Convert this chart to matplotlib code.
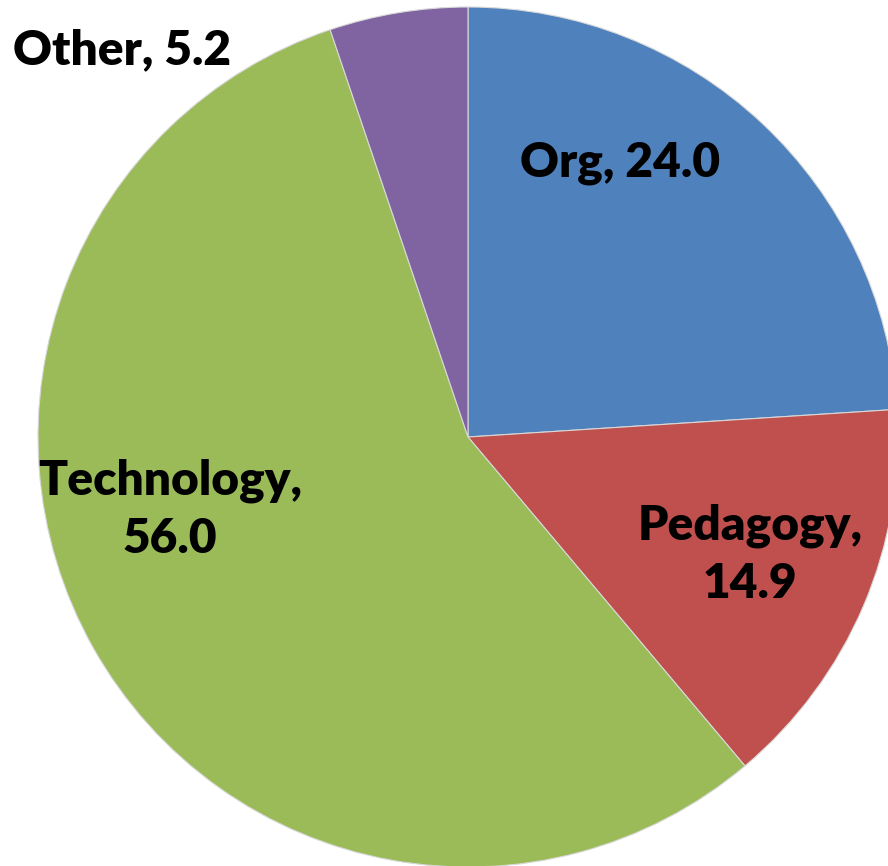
import matplotlib
matplotlib.use('Agg')
import matplotlib.pyplot as plt

categories = ['Org', 'Pedagogy', 'Technology', 'Other']
values = [24.0, 14.9, 56.0, 5.2]
colors = ['#4F81BD', '#C0504D', '#9BBB59', '#8064A2']
label_texts = ['Org, 24.0', 'Pedagogy,\n14.9', 'Technology,\n56.0', 'Other, 5.2']

# label centres in pixel coords (from top-left)
label_pos = [(620, 163), (750, 555), (170, 510), (122, 50)]

W, H = 888, 866
fig = plt.figure(figsize=(W / 100, H / 100), dpi=100)
ax = fig.add_axes([0, 0, 1, 1])

cx, cy, r = 468, 437, 430
ax.pie(values, colors=colors, startangle=90, counterclock=False,
       center=(cx, H - cy), radius=r,
       wedgeprops=dict(edgecolor='#d8d8d8', linewidth=0.8))

for txt, (px, py) in zip(label_texts, label_pos):
    ax.text(px, H - py, txt, ha='center', va='center', fontsize=34.5,
            fontweight='heavy', family=['Lato', 'DejaVu Sans'],
            linespacing=1.4, color='black')

ax.set_xlim(0, W)
ax.set_ylim(0, H)
ax.set_aspect('equal')
ax.axis('off')

fig.savefig('out.png', dpi=100, facecolor='white')
